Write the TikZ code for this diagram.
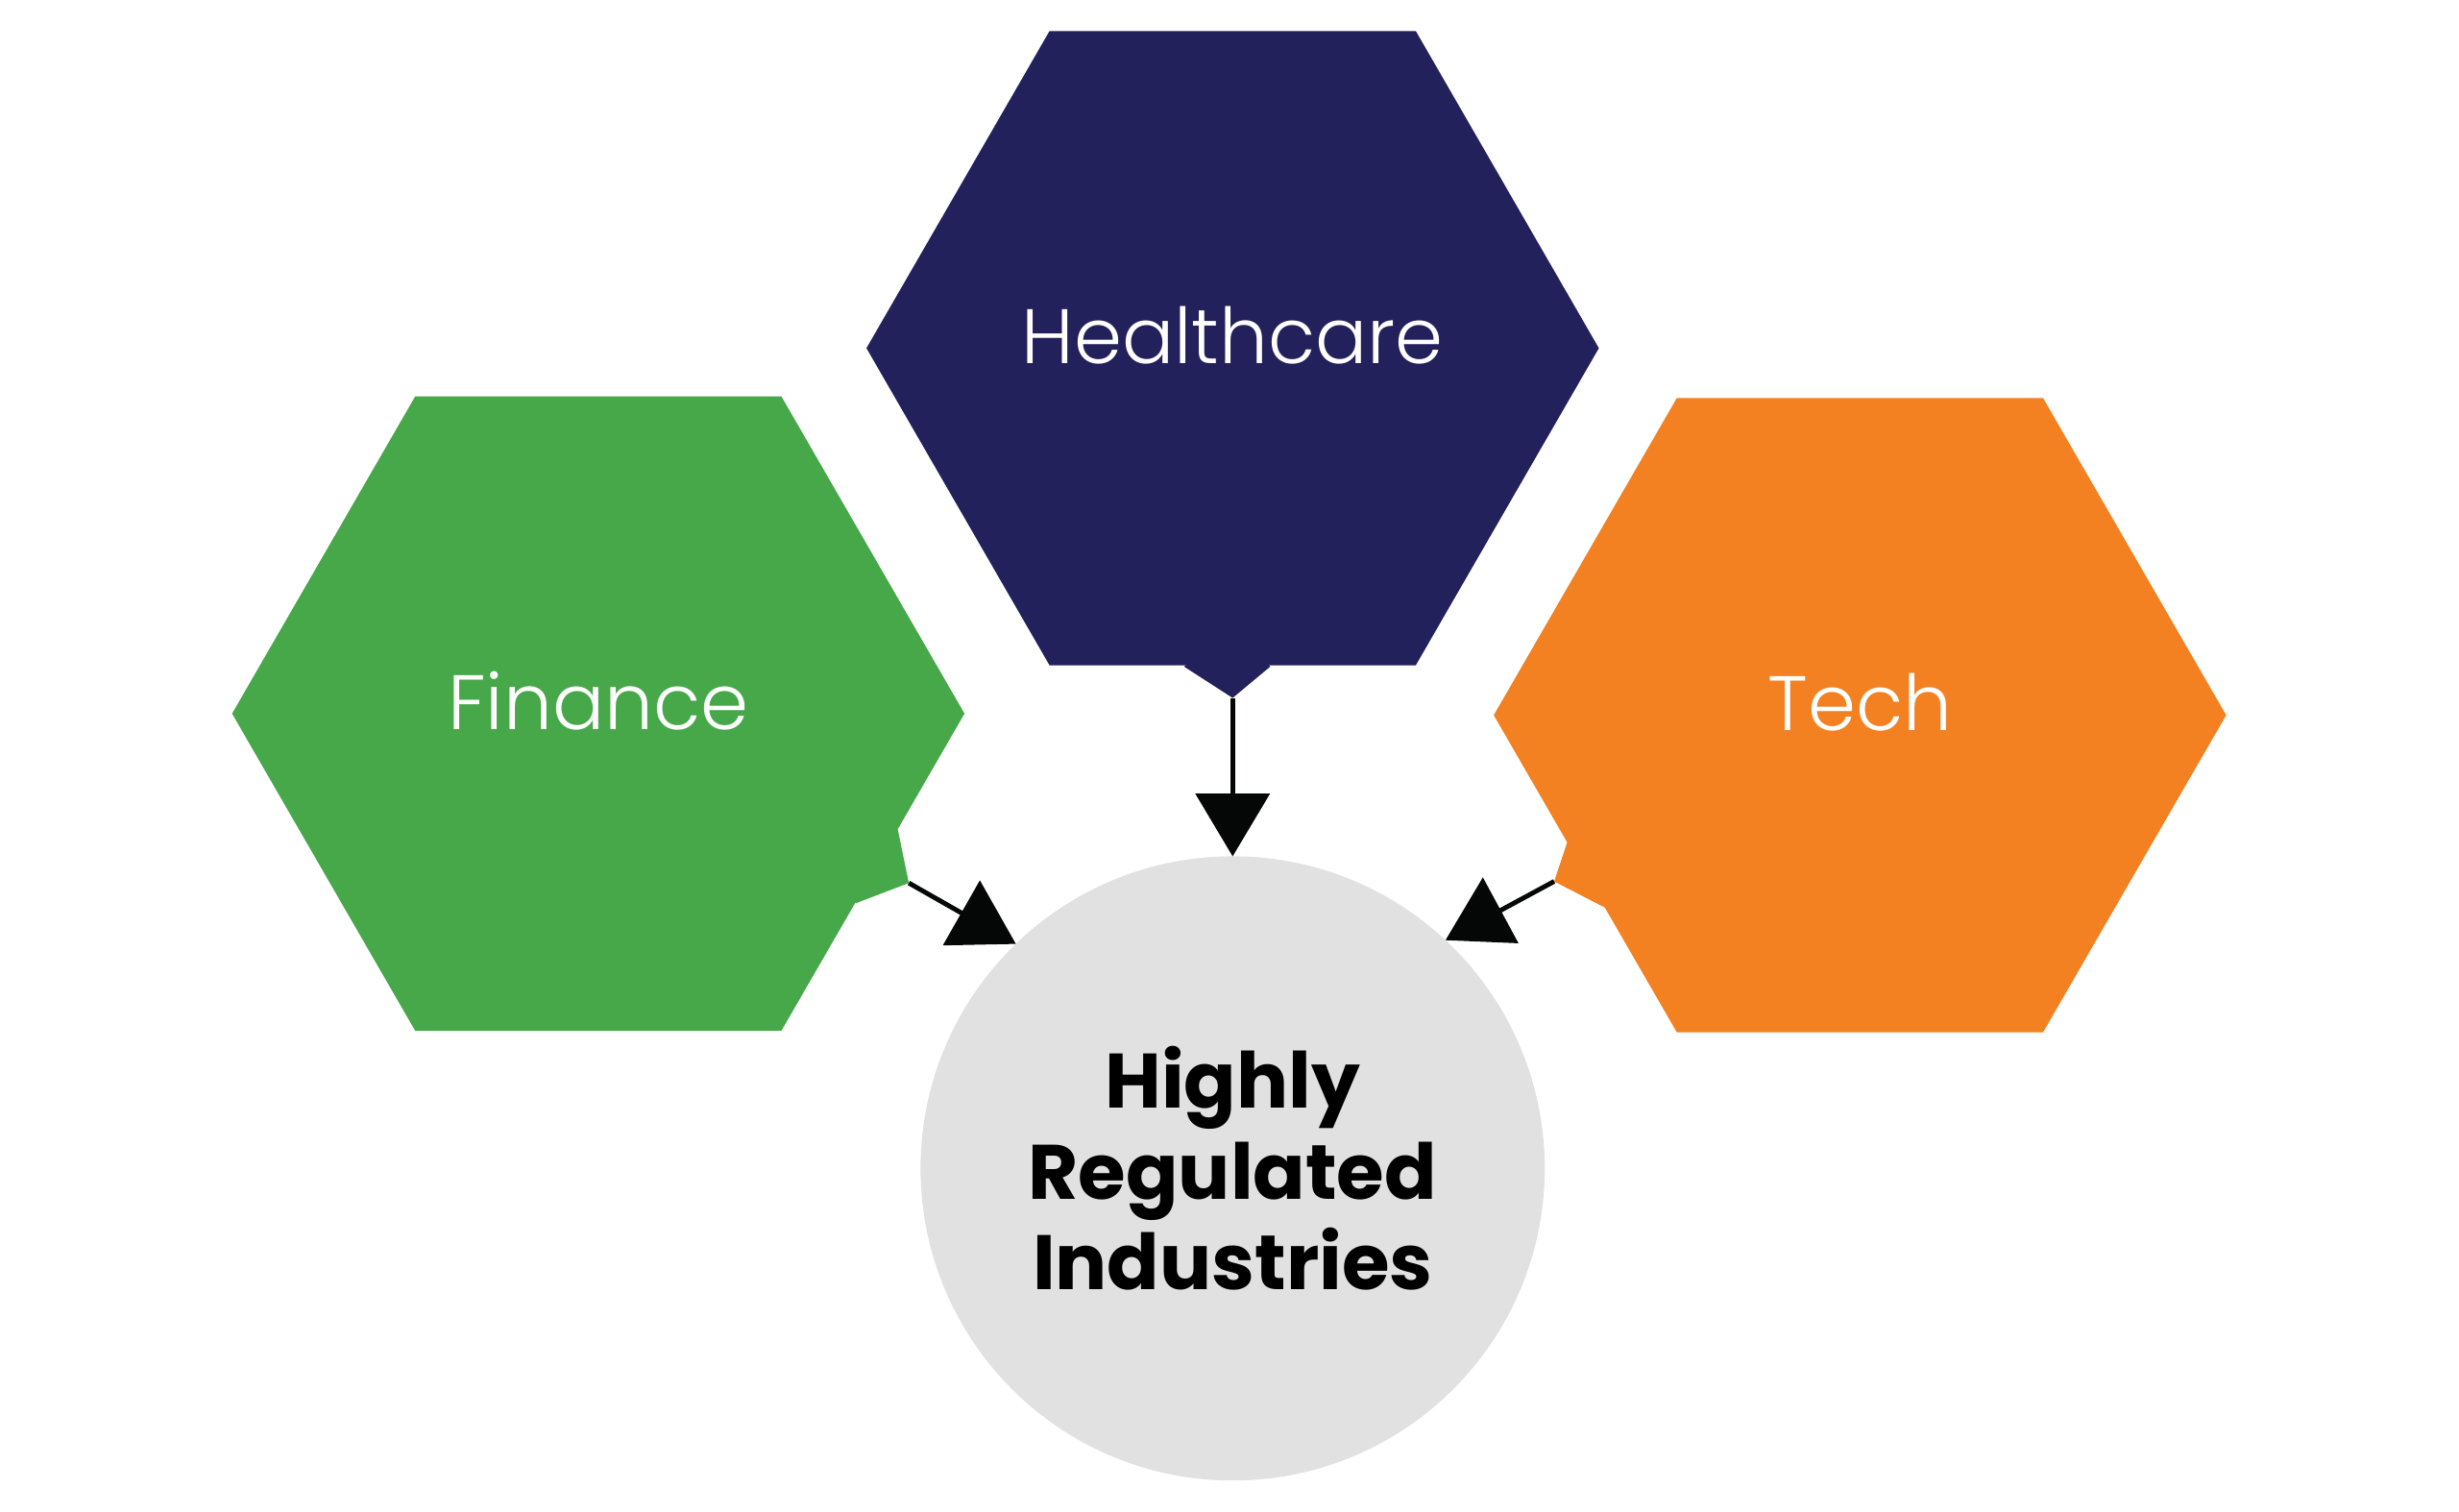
\documentclass[tikz,border=0pt]{standalone}
\usepackage{fontspec}
\setmainfont{Poppins}
\newfontfamily\hexfont{Poppins}[UprightFont=* Light]
\usetikzlibrary{shapes,shapes.geometric,calc,arrows.meta}
\definecolor{hexgreen}{RGB}{71,168,74}
\definecolor{hexnavy}{RGB}{35,33,91}
\definecolor{hexorange}{RGB}{243,129,33}
\definecolor{hubgrey}{RGB}{224,225,224}
\definecolor{arrowblack}{RGB}{5,7,7}
\tikzset{
  hexnode/.style = {regular polygon, regular polygon sides=6, minimum size=4.67cm, inner sep=0pt, outer sep=0pt, align=center, text=white, text height=0.34cm, text depth=0.14cm, font=\hexfont\fontsize{14}{17}\selectfont},
  hex_g/.style = {hexnode, fill=hexgreen},
  hex_b/.style = {hexnode, fill=hexnavy},
  hex_o/.style = {hexnode, fill=hexorange},
  hub_c/.style = {circle, fill=hubgrey, minimum size=3.98cm, inner sep=0pt, outer sep=0pt, align=center, text=black, font=\bfseries\fontsize{14}{16.5}\selectfont},
  link/.style = {draw=arrowblack, line width=0.03cm, -{Triangle[length=0.4cm, width=0.47cm]}}
}

\begin{document}
\begin{tikzpicture}
	\useasboundingbox (0,0) rectangle (15.68,9.64);
	% the three sectors
	\node [hex_b] (health) at (7.86,7.42) {Healthcare};
	\node [hex_g] (finance) at (3.815,5.09) {Finance};
	\node [hex_o] (tech) at (11.86,5.08) {Tech};
	% the hub
	\node [hub_c] (hub) at (7.86,2.19) {Highly\\Regulated\\Industries};
	% little spurs the arrows leave from (tucked into the hexagons)
	\fill [hexnavy] ($(health)+(-0.31,-2.03)$) -- ($(health)+(0,-2.23)$) coordinate (health_t) -- ($(health)+(0.24,-2.03)$) -- ($(health)+(0,-1.8)$) -- cycle;
	\fill [hexgreen] ($(finance)+(1.91,-0.74)$) -- ($(finance)+(1.98,-1.08)$) coordinate (finance_t) -- ($(finance)+(1.64,-1.21)$) -- ($(finance)+(1.5,-0.8)$) -- cycle;
	\fill [hexorange] ($(tech)+(-1.86,-0.79)$) -- ($(tech)+(-1.95,-1.06)$) coordinate (tech_t) -- ($(tech)+(-1.62,-1.23)$) -- ($(tech)+(-1.5,-0.8)$) -- cycle;
	% arrows
	\draw [link] (health_t) -- (hub.north);
	\draw [link] (finance_t) -- (hub.134.6);
	\draw [link] (tech_t) -- (hub.47.5);
\end{tikzpicture}
\end{document}
